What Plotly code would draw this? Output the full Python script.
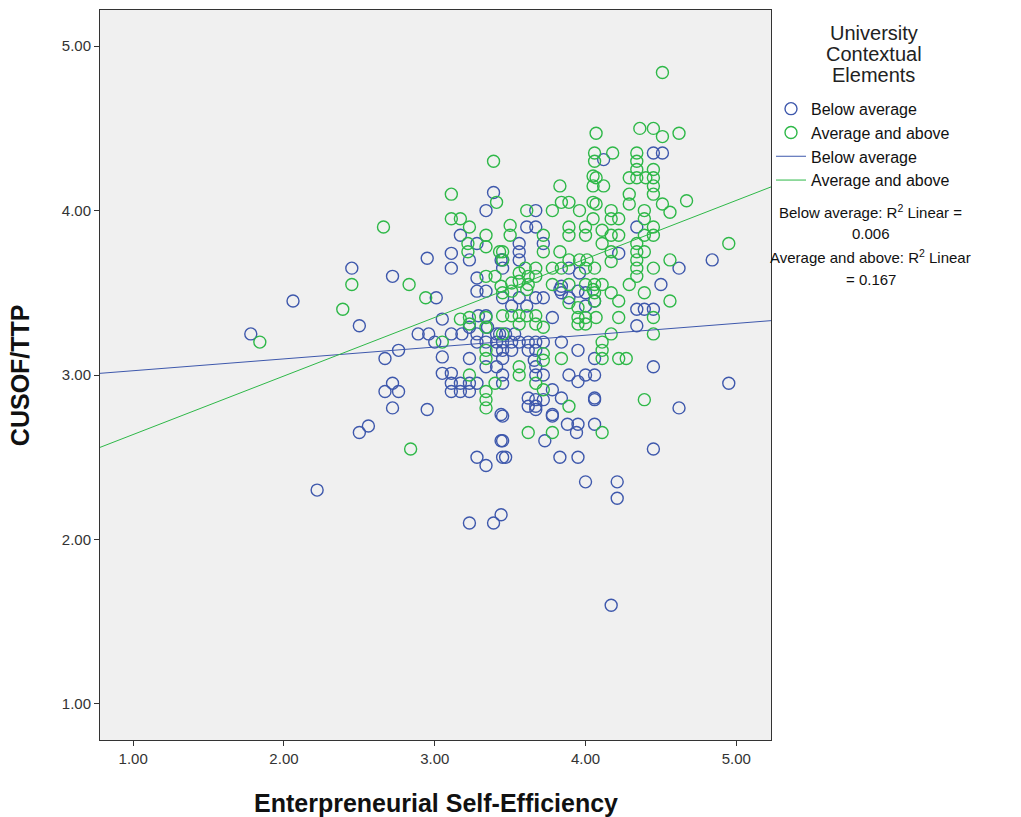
import plotly.graph_objects as go

# ---------------- data ----------------
below_x = [1.78, 2.06, 2.22, 2.45, 2.50, 2.50, 2.56, 2.67, 2.76, 2.72, 2.67, 2.76, 2.72, 2.72, 2.95, 3.01,
           2.89, 2.96, 3.00, 3.05, 3.05, 3.05, 3.11, 3.11, 3.17, 3.23, 3.28, 3.11, 3.17, 3.23, 2.95, 3.11,
           3.18, 3.23, 3.28, 3.35, 3.29, 3.34, 3.28, 3.34, 3.41, 3.41, 3.23, 3.34, 3.41, 3.41, 3.44, 3.28,
           3.34, 3.44, 3.45, 3.23, 3.39, 3.44,
           3.39, 3.34, 3.17, 3.28, 3.11, 3.23, 3.11, 3.28, 3.28, 3.34, 3.44,
           3.67, 3.61, 3.67, 3.72, 3.56, 3.56, 3.56, 3.89, 3.96, 3.45, 3.45, 3.84, 3.84, 3.95, 3.45, 3.56,
           3.61, 3.67, 3.72, 3.83, 3.89, 4.00, 4.00, 3.51, 3.78, 3.43, 3.47, 3.53, 3.45, 3.51, 3.56, 3.62,
           3.67, 3.72, 3.84, 3.95, 3.45, 3.51, 3.62, 3.67, 3.45, 3.66, 4.06, 3.67, 3.45, 3.45, 3.67, 3.72,
           3.89, 3.95, 4.00, 4.06, 3.78, 3.62, 3.67, 3.72, 3.84, 3.62, 3.67, 3.78, 4.06, 3.45, 3.67, 3.78,
           3.88, 3.95, 4.06, 3.94, 3.73, 3.45, 3.47, 3.83, 3.95, 4.00, 4.21, 4.21, 4.17,
           4.12, 4.45, 4.51, 4.34, 4.22, 4.62, 4.50, 4.06, 4.34, 4.39, 4.45, 4.34, 4.45, 4.06, 4.62, 4.45,
           4.84, 4.95]
below_y = [3.25, 3.45, 2.30, 3.65, 3.30, 2.65, 2.69, 3.10, 3.15, 2.95, 2.90, 2.90, 2.80, 3.60, 3.71, 3.47,
           3.25, 3.25, 3.20, 3.34, 3.11, 3.01, 3.01, 2.95, 2.95, 2.95, 2.95, 2.90, 2.90, 2.90, 2.79, 3.25,
           3.25, 3.29, 3.25, 3.29, 3.36, 3.36, 3.20, 3.20, 3.25, 3.20, 3.10, 3.05, 3.05, 3.15, 2.76, 2.50,
           2.45, 2.60, 2.50, 2.10, 2.10, 2.15,
           4.11, 4.00, 3.85, 3.80, 3.74, 3.70, 3.65, 3.59, 3.51, 3.51, 3.70,
           4.00, 3.90, 3.90, 3.80, 3.80, 3.75, 3.70, 3.65, 3.62, 3.70, 3.65, 3.54, 3.50, 3.51, 3.47, 3.47,
           3.42, 3.47, 3.47, 3.52, 3.47, 3.50, 3.42, 3.42, 3.35, 3.25, 3.25, 3.25, 3.20, 3.20, 3.20, 3.20,
           3.20, 3.20, 3.20, 3.15, 3.15, 3.15, 3.15, 3.15, 3.10, 3.09, 3.10, 3.05, 3.00, 2.95, 3.00, 3.00,
           3.00, 2.96, 3.00, 3.00, 2.91, 2.86, 2.85, 2.85, 2.86, 2.81, 2.81, 2.76, 2.86, 2.75, 2.79, 2.75,
           2.70, 2.70, 2.70, 2.65, 2.60, 2.60, 2.50, 2.50, 2.50, 2.35, 2.35, 2.25, 1.60,
           4.31, 4.35, 4.35, 3.90, 3.74, 3.65, 3.55, 3.45, 3.40, 3.40, 3.40, 3.30, 3.05, 2.85, 2.80, 2.55,
           3.70, 2.95]

above_x = [1.84, 2.39, 2.45, 2.66, 2.83, 2.84, 2.94, 3.05, 3.17, 3.23, 3.23, 3.34, 3.34, 3.23, 3.34, 3.34,
           3.40, 3.34, 3.34, 3.34,
           3.39, 3.11, 3.41, 3.11, 3.17, 3.23, 3.34, 3.22, 3.34, 3.22, 3.43, 3.34, 3.40, 3.44,
           4.06, 4.06, 3.83, 4.05, 4.05, 3.84, 3.89, 3.96, 3.78, 4.05, 4.05, 3.61, 3.50, 3.50, 3.72, 3.72,
           3.89, 3.89, 4.00, 4.00, 3.45, 3.45, 3.83, 3.89, 3.96, 4.01, 3.60, 3.67, 3.78, 3.84, 3.56, 3.56,
           3.51, 3.51, 3.62, 3.62, 3.67, 3.78, 3.89, 4.00, 4.05, 3.45, 3.61,
           3.89, 3.95, 3.95, 3.95, 4.00, 4.00, 4.06, 4.07, 3.45, 3.51, 3.56, 3.61, 3.67, 3.56, 3.67, 3.72,
           3.45, 3.72, 3.72, 3.84, 3.56, 3.56, 3.67, 3.72, 3.89, 3.62, 3.78, 4.11,
           4.51, 4.07, 4.36, 4.45, 4.51, 4.62, 4.18, 4.34, 4.34, 4.34, 4.45, 4.45, 4.45, 4.45, 4.07, 4.12,
           4.29, 4.34, 4.40, 4.29, 4.07, 4.67, 4.29, 4.51, 4.56, 4.17, 4.17, 4.22, 4.39, 4.39, 4.45, 4.45,
           4.39, 4.11, 4.17, 4.22, 4.11, 4.17, 4.34, 4.34, 4.39, 4.17, 4.06, 4.00, 4.34, 4.34, 4.34, 4.45,
           4.56, 4.06, 4.11, 4.29, 4.39, 4.06, 4.17, 4.22, 4.56, 4.22, 4.45, 4.45, 4.17, 4.11, 4.11, 4.11,
           4.22, 4.27, 4.39, 4.95]
above_y = [3.20, 3.40, 3.55, 3.90, 3.55, 2.55, 3.47, 3.20, 3.34, 3.35, 3.31, 3.35, 3.29, 3.00, 3.10, 3.15,
           2.95, 2.90, 2.85, 2.80,
           4.30, 4.10, 4.05, 3.95, 3.95, 3.90, 3.85, 3.80, 3.78, 3.75, 3.75, 3.60, 3.60, 3.54,
           4.35, 4.30, 4.15, 4.21, 4.15, 4.05, 4.05, 4.00, 4.00, 4.05, 3.95, 4.00, 3.91, 3.85, 3.85, 3.75,
           3.90, 3.85, 3.90, 3.85, 3.75, 3.70, 3.75, 3.70, 3.70, 3.70, 3.65, 3.65, 3.65, 3.65, 3.62, 3.57,
           3.56, 3.51, 3.60, 3.55, 3.60, 3.55, 3.55, 3.55, 3.52, 3.50, 3.52,
           3.44, 3.41, 3.35, 3.31, 3.35, 3.31, 3.45, 3.35, 3.36, 3.36, 3.36, 3.36, 3.36, 3.31, 3.31, 3.29,
           3.25, 3.13, 3.09, 3.10, 3.05, 3.00, 2.95, 2.91, 2.81, 2.65, 2.65, 2.65,
           4.84, 4.47, 4.50, 4.50, 4.45, 4.47, 4.35, 4.35, 4.30, 4.25, 4.25, 4.20, 4.15, 4.10, 4.20, 4.15,
           4.20, 4.20, 4.20, 4.10, 4.04, 4.06, 4.04, 4.04, 3.99, 4.00, 3.95, 3.95, 4.00, 3.95, 3.90, 3.85,
           3.85, 3.88, 3.85, 3.85, 3.80, 3.75, 3.80, 3.75, 3.75, 3.69, 3.65, 3.65, 3.70, 3.65, 3.60, 3.65,
           3.70, 3.55, 3.55, 3.55, 3.50, 3.50, 3.50, 3.45, 3.45, 3.35, 3.35, 3.25, 3.25, 3.20, 3.15, 3.10,
           3.10, 3.10, 2.85, 3.80]

# linear fits (intercept, slope) per group
fit_below = (2.954, 0.072)
fit_above = (2.282, 0.356)
x_range = [0.78, 5.23]
y_range = [0.78, 5.22]
tick_vals = [1, 2, 3, 4, 5]
tick_text = ["1.00", "2.00", "3.00", "4.00", "5.00"]

x_title = "Enterpreneurial Self-Efficiency"
y_title = "CUSOF/TTP"
legend_title_lines = ["University", "Contextual", "Elements"]
r2_lines = ["Below average: R<sup>2</sup> Linear =", "0.006",
            "Average and above: R<sup>2</sup> Linear", "= 0.167"]

BLUE = "#3E58AC"
GREEN = "#2EB848"

fig = go.Figure()
fig.add_trace(go.Scatter(x=below_x, y=below_y, mode="markers", name="Below average",
                         marker=dict(symbol="circle-open", size=12, color=BLUE, line=dict(width=1.4))))
fig.add_trace(go.Scatter(x=above_x, y=above_y, mode="markers", name="Average and above",
                         marker=dict(symbol="circle-open", size=12, color=GREEN, line=dict(width=1.4))))
fig.add_trace(go.Scatter(x=x_range, y=[fit_below[0] + fit_below[1] * v for v in x_range],
                         mode="lines", name="Below average", line=dict(color=BLUE, width=1)))
fig.add_trace(go.Scatter(x=x_range, y=[fit_above[0] + fit_above[1] * v for v in x_range],
                         mode="lines", name="Average and above", line=dict(color=GREEN, width=1)))

font_family = "Liberation Sans, Arial, sans-serif"
fig.update_layout(
    width=1021, height=817,
    margin=dict(l=100, r=250, t=10, b=77),
    paper_bgcolor="white", plot_bgcolor="#F0F0F0",
    font=dict(family=font_family, color="#222222"),
    showlegend=True,
    legend=dict(x=1.0, xanchor="left", y=0.888, yanchor="top",
                font=dict(size=16, family=font_family, color="#111111"),
                bgcolor="rgba(0,0,0,0)", tracegroupgap=0, itemwidth=30),
    xaxis=dict(range=x_range, tickvals=tick_vals, ticktext=tick_text, showgrid=False, zeroline=False,
               showline=True, linecolor="#333333", linewidth=1, mirror=True, automargin=False,
               ticks="outside", ticklen=5, tickcolor="#333333",
               tickfont=dict(size=15, color="#333333")),
    yaxis=dict(range=y_range, tickvals=tick_vals, ticktext=tick_text, showgrid=False, zeroline=False,
               showline=True, linecolor="#333333", linewidth=1, mirror=True, automargin=False,
               ticks="outside", ticklen=5, tickcolor="#333333",
               tickfont=dict(size=15, color="#333333")),
)

fig.add_annotation(xref="paper", yref="paper", x=0.5, y=-0.0863, xanchor="center", yanchor="middle",
                   text="<b>" + x_title + "</b>", showarrow=False,
                   font=dict(size=25, family=font_family, color="#111111"))
fig.add_annotation(xref="paper", yref="paper", x=-0.119, y=0.5, xanchor="center", yanchor="middle",
                   text="<b>" + y_title + "</b>", showarrow=False, textangle=-90,
                   font=dict(size=25, family=font_family, color="#111111"))

for txt, py in zip(legend_title_lines, [0.9685, 0.9397, 0.911]):
    fig.add_annotation(xref="paper", yref="paper", x=1.153, y=py, xanchor="center", yanchor="middle",
                       text=txt, showarrow=False, font=dict(size=20, family=font_family, color="#222222"))
for txt, py in zip(r2_lines, [0.7233, 0.6932, 0.663, 0.6315]):
    fig.add_annotation(xref="paper", yref="paper", x=1.149, y=py, xanchor="center", yanchor="middle",
                       text=txt, showarrow=False, font=dict(size=15, family=font_family, color="#111111"))

fig.write_html("out.html")
